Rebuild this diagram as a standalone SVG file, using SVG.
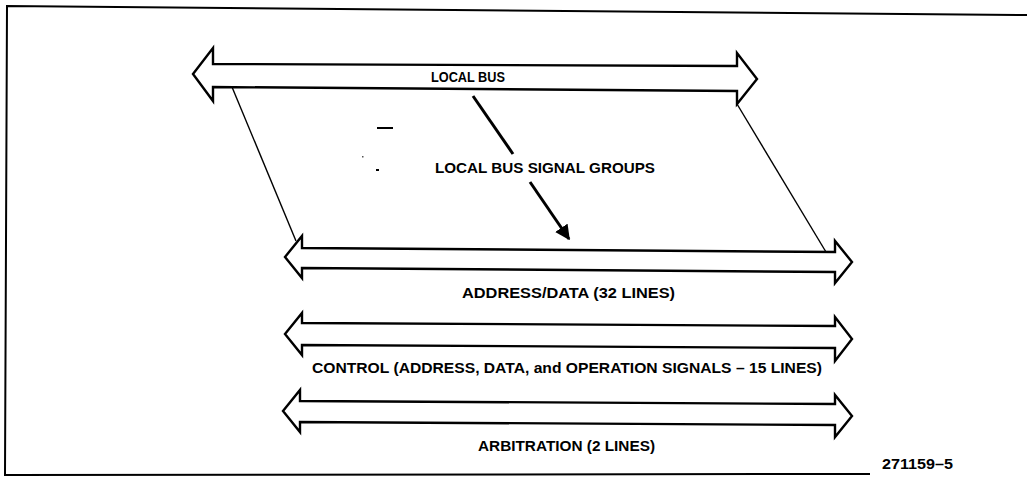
<svg xmlns="http://www.w3.org/2000/svg" width="1027" height="482" viewBox="0 0 1027 482">
  <defs>
    <marker id="ah" viewBox="0 0 10 10" refX="9" refY="5" markerWidth="5" markerHeight="5" markerUnits="strokeWidth" orient="auto">
      <path d="M0,0 L10,5 L0,10 z" fill="#000"/>
    </marker>
  </defs>
  <style>
    .bus { fill: #fff; stroke: #000; stroke-width: 2.4; stroke-linejoin: miter; }
    .lbl { font-family: "Liberation Sans", Arial, sans-serif; font-weight: bold; font-size: 14px; fill: #000; }
    .thin { stroke: #000; stroke-width: 1.4; fill: none; }
    .ptr { stroke: #000; stroke-width: 3; fill: none; }
    .frame { stroke: #000; stroke-width: 2; fill: none; }
  </style>
  <rect width="1027" height="482" fill="#fff"/>
  <g id="frame">
    <polyline class="frame" points="1027,15 7,6 5,475 870,474"/>
  </g>
  <g id="connectors">
    <line class="thin" x1="232" y1="87" x2="296" y2="241"/>
    <line class="thin" x1="737" y1="104" x2="826" y2="252"/>
    <line class="ptr" x1="473" y1="96" x2="513" y2="154"/>
    <line class="ptr" x1="530" y1="182" x2="569" y2="239" marker-end="url(#ah)"/>
  </g>
  <g id="local-bus">
    <polygon class="bus" points="193,74 213,48 213,64 737,66 737,53 757,79 737,104 737,91 213,87 213,101"/>
    <text class="lbl" x="431" y="82" font-size="13" textLength="74" lengthAdjust="spacingAndGlyphs">LOCAL BUS</text>
  </g>
  <g id="signal-groups-label">
    <text class="lbl" x="435" y="173" textLength="220" lengthAdjust="spacingAndGlyphs">LOCAL BUS SIGNAL GROUPS</text>
  </g>
  <g id="address-data-bus">
    <polygon class="bus" points="285,257 302,236 302,248 835,252 835,241 852,262 835,283 835,272 302,268 302,278"/>
    <text class="lbl" x="462" y="298" textLength="213" lengthAdjust="spacingAndGlyphs">ADDRESS/DATA (32 LINES)</text>
  </g>
  <g id="control-bus">
    <polygon class="bus" points="285,334 302,313 302,323 835,326 835,317 852,339 835,361 835,348 302,345 302,355"/>
    <text class="lbl" x="312" y="373" textLength="510" lengthAdjust="spacingAndGlyphs">CONTROL (ADDRESS, DATA, and OPERATION SIGNALS – 15 LINES)</text>
  </g>
  <g id="arbitration-bus">
    <polygon class="bus" points="283,411 300,390 300,401 835,404 835,395 852,416 835,437 835,425 300,422 300,432"/>
    <text class="lbl" x="478" y="451" textLength="177" lengthAdjust="spacingAndGlyphs">ARBITRATION (2 LINES)</text>
  </g>
  <g id="figure-number">
    <text class="lbl" x="882" y="469" textLength="71" lengthAdjust="spacingAndGlyphs">271159–5</text>
  </g>
  <g id="marks">
    <line x1="377" y1="128" x2="393" y2="128" stroke="#000" stroke-width="2"/>
    <rect x="376" y="169" width="3" height="2" fill="#000"/>
    <rect x="362" y="156" width="1.5" height="1.5" fill="#555"/>
  </g>
</svg>
